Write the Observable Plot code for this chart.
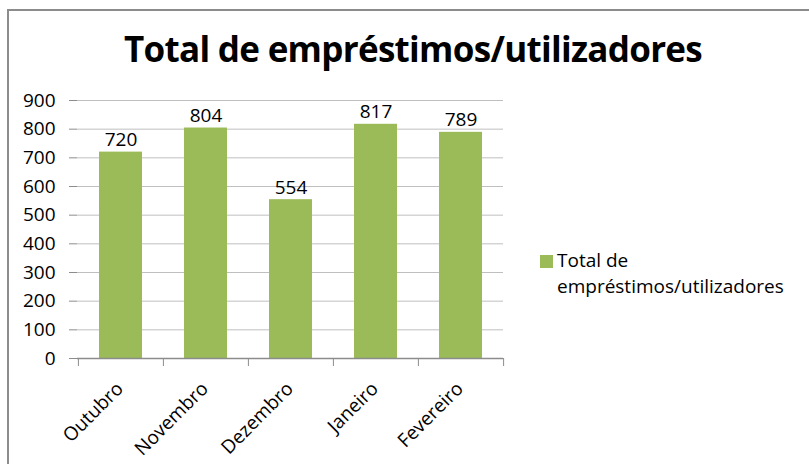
<!DOCTYPE html>
<html><head><meta charset="utf-8">
<script src="https://cdn.jsdelivr.net/npm/d3@7"></script>
<script src="https://cdn.jsdelivr.net/npm/@observablehq/plot@0.6"></script>
<style>
html,body{margin:0;padding:0;background:#fff;width:809px;height:464px;overflow:hidden;font-family:"Open Sans",sans-serif;}
#wrap{position:relative;width:809px;height:464px;}
#frame{position:absolute;left:7px;top:9px;width:820px;height:480px;border:2px solid #8c8c8c;box-sizing:border-box;}
#title{position:absolute;left:0;width:826px;top:25px;text-align:center;font-weight:bold;font-size:35px;letter-spacing:-0.7px;color:#000;}
#chart{position:absolute;left:0;top:0;}
#legend{position:absolute;left:540px;top:247px;font-size:19px;color:#000;line-height:26px;}
#legend .sw{position:absolute;left:0;top:8px;width:13px;height:13px;}
#legend .tx{margin-left:17px;}
</style></head>
<body><div id="wrap"><div id="frame"></div><div id="title"></div><div id="chart"></div><div id="legend"></div></div>
<script>
const title = "Total de empréstimos/utilizadores";
const seriesName = "Total de empréstimos/utilizadores";
const months = ["Outubro","Novembro","Dezembro","Janeiro","Fevereiro"];
const values = [720, 804, 554, 817, 789];
const yTicks = [0,100,200,300,400,500,600,700,800,900];
const barColor = "#9bbb59";

const data = months.map((m,i)=>({month:m, value:values[i]}));
const W = 809, H = 464, ml = 77, mr = 306, mt = 100, mb = 106;
const step = (W - ml - mr) / months.length;

document.getElementById("title").textContent = title;
document.getElementById("legend").innerHTML =
  `<div class="sw" style="background:${barColor}"></div><div class="tx">Total de<br>empréstimos/utilizadores</div>`;

const plot = Plot.plot({
  width: W, height: H,
  marginLeft: ml, marginRight: mr, marginTop: mt, marginBottom: mb,
  style: {fontFamily: "'Open Sans', sans-serif", fontSize: "19px", color: "#000", background: "transparent", overflow: "visible"},
  x: {domain: months, paddingInner: 0.5, paddingOuter: 0.25, label: null},
  y: {domain: [0, 900], label: null},
  marks: [
    Plot.gridY(yTicks, {stroke: "#bfbfbf", strokeOpacity: 1, strokeWidth: 1}),
    Plot.barY(data, {x: "month", y: "value", fill: barColor}),
    Plot.text(data, {x: "month", y: "value", text: d => String(d.value), dy: -12, fontSize: 19, fill: "#000"}),
    Plot.ruleY([0], {stroke: "#8c8c8c", strokeWidth: 1.3}),
    Plot.axisY(yTicks, {tickSize: 8, stroke: "#8c8c8c", tickPadding: 14, fontSize: 19, fill: "#000", anchor: "left", label: null}),
    Plot.axisX({tickSize: 8, text: null, dx: -step/2, stroke: "#8c8c8c"}),
    Plot.axisX([months[months.length-1]], {tickSize: 8, text: null, dx: step/2, stroke: "#8c8c8c"}),
    Plot.axisX({tickSize: 0, tickRotate: -45, tickPadding: 27, dx: -1, fontSize: 19, fill: "#000", label: null}),
    Plot.ruleX([months[0]], {x: months[0], dx: -step/2, y1: 0, y2: 900, stroke: "#8c8c8c", strokeWidth: 1.3})
  ]
});
document.getElementById("chart").appendChild(plot);
</script></body></html>
